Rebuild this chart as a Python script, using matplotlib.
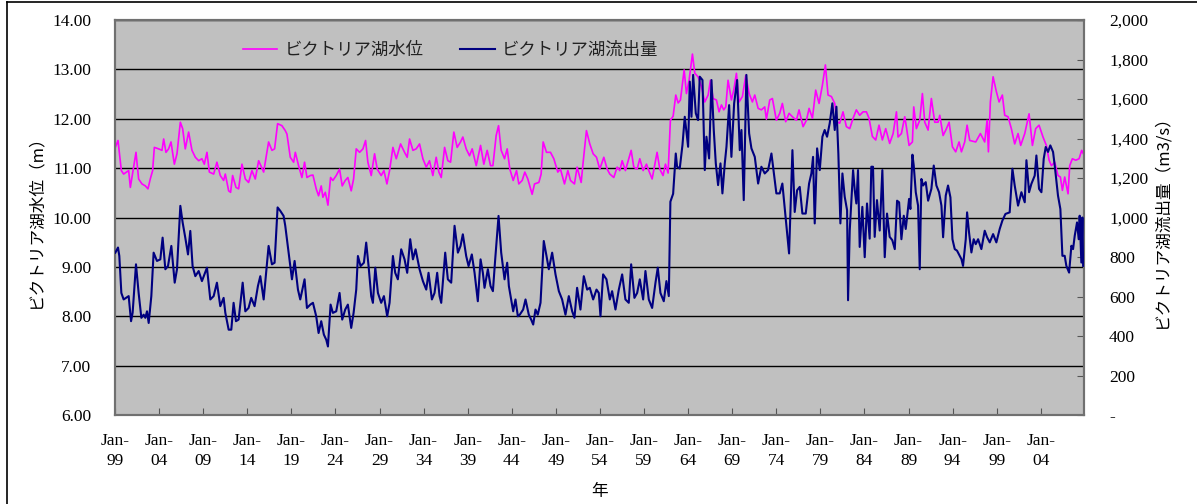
import matplotlib
matplotlib.use("Agg")
import matplotlib.pyplot as plt
from matplotlib.lines import Line2D
from matplotlib.ticker import FuncFormatter

# Lake Victoria water level (m), decimal year
level_year = [
    1899.04, 1899.34, 1899.72, 1899.98, 1900.55, 1900.74, 1901.38, 1901.68, 1902.06, 1902.44,
    1902.74, 1903.00, 1903.27, 1903.46, 1903.95, 1904.33, 1904.52, 1904.78, 1905.08, 1905.35,
    1905.73, 1906.03, 1906.41, 1906.67, 1906.97, 1907.35, 1907.73, 1908.11, 1908.49, 1908.86,
    1909.13, 1909.43, 1909.70, 1910.19, 1910.56, 1910.94, 1911.32, 1911.51, 1911.89, 1912.11,
    1912.34, 1912.72, 1913.02, 1913.40, 1913.78, 1914.15, 1914.53, 1914.91, 1915.29, 1915.86,
    1916.42, 1916.80, 1917.10, 1917.44, 1917.93, 1918.31, 1918.50, 1918.88, 1919.26, 1919.45,
    1919.82, 1920.20, 1920.50, 1920.77, 1921.15, 1921.45, 1921.82, 1922.09, 1922.39, 1922.58,
    1922.85, 1923.15, 1923.45, 1923.71, 1924.09, 1924.47, 1924.77, 1925.11, 1925.41, 1925.79,
    1926.06, 1926.36, 1926.74, 1927.12, 1927.42, 1927.68, 1928.06, 1928.44, 1928.74, 1929.19,
    1929.50, 1929.84, 1930.14, 1930.52, 1930.90, 1931.39, 1931.84, 1932.14, 1932.41, 1932.79,
    1933.16, 1933.54, 1933.92, 1934.30, 1934.67, 1935.05, 1935.43, 1935.73, 1936.00, 1936.38,
    1936.75, 1937.06, 1937.43, 1937.81, 1938.19, 1938.45, 1938.83, 1939.21, 1939.51, 1939.97,
    1940.46, 1940.83, 1941.21, 1941.59, 1941.86, 1942.23, 1942.50, 1942.80, 1943.18, 1943.48,
    1943.78, 1944.16, 1944.54, 1944.80, 1945.18, 1945.48, 1945.82, 1946.31, 1946.58, 1947.07,
    1947.33, 1947.56, 1947.94, 1948.39, 1948.77, 1949.22, 1949.52, 1949.98, 1950.36, 1950.66,
    1951.11, 1951.41, 1951.87, 1952.17, 1952.47, 1952.85, 1953.23, 1953.61, 1953.98, 1954.44,
    1954.82, 1955.12, 1955.57, 1955.95, 1956.25, 1956.52, 1956.89, 1957.54, 1957.84, 1958.22,
    1958.52, 1958.90, 1959.28, 1959.54, 1959.92, 1960.48, 1960.79, 1961.16, 1961.43, 1961.73,
    1961.99, 1962.30, 1962.60, 1962.87, 1963.13, 1963.55, 1963.81, 1964.11, 1964.49, 1964.76,
    1965.13, 1965.51, 1965.89, 1966.27, 1966.53, 1966.83, 1967.21, 1967.51, 1967.78, 1968.04,
    1968.27, 1968.53, 1968.91, 1969.18, 1969.48, 1969.78, 1970.16, 1970.54, 1970.92, 1971.29,
    1971.56, 1971.94, 1972.31, 1972.69, 1972.88, 1973.26, 1973.56, 1974.01, 1974.39, 1974.69,
    1975.07, 1975.45, 1975.83, 1976.28, 1976.58, 1977.04, 1977.42, 1977.72, 1978.10, 1978.47,
    1978.85, 1979.23, 1979.57, 1979.87, 1980.25, 1980.63, 1980.89, 1981.19, 1981.57, 1981.95,
    1982.33, 1982.71, 1983.08, 1983.46, 1983.84, 1984.22, 1984.52, 1984.90, 1985.28, 1985.65,
    1986.03, 1986.41, 1986.86, 1987.25, 1987.63, 1987.81, 1988.19, 1988.57, 1988.76, 1989.06,
    1989.44, 1989.59, 1989.89, 1990.27, 1990.57, 1990.84, 1991.22, 1991.59, 1991.97, 1992.35,
    1992.54, 1992.92, 1993.30, 1993.60, 1993.98, 1994.35, 1994.73, 1995.00, 1995.37, 1995.64,
    1995.94, 1996.62, 1997.15, 1997.64, 1997.91, 1998.06, 1998.28, 1998.59, 1998.96, 1999.27,
    1999.64, 1999.91, 2000.29, 2000.66, 2001.04, 2001.42, 2001.72, 2002.18, 2002.67, 2003.05,
    2003.42, 2003.80, 2004.25, 2004.63, 2004.94, 2005.20, 2005.58, 2005.95, 2006.22, 2006.45,
    2006.71, 2007.09, 2007.28, 2007.58, 2007.96, 2008.34, 2008.64, 2008.80,
]
level_m = [
    11.42, 11.56, 10.95, 10.88, 10.95, 10.61, 11.32, 10.78, 10.68, 10.64,
    10.58, 10.78, 10.95, 11.42, 11.39, 11.36, 11.59, 11.32, 11.39, 11.53,
    11.08, 11.29, 11.93, 11.80, 11.39, 11.73, 11.36, 11.22, 11.15, 11.19,
    11.08, 11.32, 10.92, 10.88, 11.12, 10.85, 10.75, 10.88, 10.54, 10.51,
    10.85, 10.61, 10.58, 11.08, 10.78, 10.71, 10.95, 10.78, 11.15, 10.92,
    11.53, 11.36, 11.39, 11.90, 11.86, 11.76, 11.69, 11.22, 11.12, 11.32,
    11.05, 10.81, 11.12, 10.81, 10.85, 10.86, 10.58, 10.44, 10.64, 10.41,
    10.51, 10.25, 10.81, 10.75, 10.85, 10.98, 10.64, 10.75, 10.81, 10.54,
    10.78, 11.39, 11.32, 11.39, 11.56, 11.12, 10.85, 11.29, 10.98, 10.85,
    10.95, 10.68, 10.95, 11.42, 11.19, 11.49, 11.32, 11.22, 11.59, 11.36,
    11.39, 11.49, 11.19, 11.02, 11.15, 10.85, 11.22, 10.92, 10.81, 11.42,
    11.15, 11.12, 11.73, 11.42, 11.53, 11.63, 11.39, 11.25, 11.39, 11.05,
    11.46, 11.08, 11.36, 11.05, 11.05, 11.66, 11.86, 11.36, 11.19, 11.39,
    10.98, 10.75, 10.95, 10.68, 10.75, 10.92, 10.78, 10.47, 10.68, 10.71,
    10.88, 11.53, 11.32, 11.32, 11.19, 10.92, 10.98, 10.68, 10.95, 10.75,
    10.68, 11.02, 10.71, 11.25, 11.76, 11.49, 11.29, 11.22, 10.98, 11.22,
    10.98, 10.88, 10.81, 11.02, 10.95, 11.15, 10.95, 11.36, 11.02, 10.98,
    11.19, 10.95, 11.08, 10.95, 10.78, 11.32, 10.98, 10.85, 11.08, 10.90,
    11.97, 12.05, 12.48, 12.32, 12.38, 12.99, 12.51, 12.78, 13.31, 12.92,
    12.85, 12.65, 12.34, 12.48, 12.78, 12.41, 12.38, 12.14, 12.28, 12.18,
    12.24, 12.78, 12.38, 12.58, 12.92, 12.34, 12.45, 12.88, 12.51, 12.34,
    12.48, 12.21, 12.18, 12.24, 11.99, 12.38, 12.41, 11.97, 12.11, 12.31,
    11.94, 12.11, 12.04, 11.97, 12.18, 11.84, 11.97, 12.21, 12.01, 12.58,
    12.31, 12.68, 13.09, 12.48, 12.45, 12.31, 11.94, 11.91, 12.14, 11.84,
    11.80, 12.01, 12.18, 12.07, 12.14, 12.14, 12.01, 11.64, 11.57, 11.87,
    11.57, 11.80, 11.50, 11.70, 12.14, 11.63, 11.70, 12.04, 11.83, 11.46,
    11.53, 12.24, 11.80, 11.97, 12.51, 11.93, 11.77, 12.41, 11.93, 11.93,
    12.07, 11.66, 11.80, 11.93, 11.43, 11.33, 11.53, 11.33, 11.53, 11.87,
    11.56, 11.53, 11.70, 11.53, 11.97, 11.33, 12.34, 12.85, 12.55, 12.34,
    12.48, 12.07, 12.04, 11.80, 11.49, 11.70, 11.46, 11.70, 12.10, 11.46,
    11.80, 11.87, 11.63, 11.46, 11.16, 11.05, 11.12, 10.85, 10.82, 10.55,
    10.82, 10.48, 11.05, 11.19, 11.16, 11.19, 11.36, 11.30,
]

# Lake Victoria outflow (m3/s), decimal year
flow_year = [
    1899.04, 1899.34, 1899.49, 1899.72, 1899.98, 1900.55, 1900.82, 1901.00, 1901.38, 1901.68,
    1901.99, 1902.25, 1902.44, 1902.63, 1902.82, 1903.12, 1903.38, 1903.76, 1904.14, 1904.40,
    1904.71, 1905.01, 1905.39, 1905.77, 1906.03, 1906.41, 1906.67, 1906.97, 1907.28, 1907.54,
    1907.80, 1908.11, 1908.49, 1908.86, 1909.43, 1909.81, 1910.19, 1910.56, 1910.94, 1911.32,
    1911.51, 1911.89, 1912.19, 1912.45, 1912.72, 1913.02, 1913.48, 1913.78, 1914.15, 1914.45,
    1914.83, 1915.21, 1915.48, 1915.86, 1916.42, 1916.80, 1917.10, 1917.44, 1917.74, 1918.12,
    1918.31, 1918.69, 1919.07, 1919.37, 1919.75, 1920.01, 1920.50, 1920.77, 1921.15, 1921.45,
    1921.82, 1922.09, 1922.39, 1922.69, 1922.96, 1923.15, 1923.45, 1923.71, 1924.09, 1924.47,
    1924.77, 1925.11, 1925.41, 1925.79, 1926.06, 1926.36, 1926.55, 1926.85, 1927.23, 1927.49,
    1927.76, 1928.06, 1928.25, 1928.52, 1928.82, 1929.19, 1929.50, 1929.87, 1930.14, 1930.52,
    1930.78, 1931.08, 1931.46, 1931.84, 1932.14, 1932.48, 1932.79, 1933.09, 1933.54, 1933.92,
    1934.30, 1934.56, 1934.94, 1935.24, 1935.54, 1935.81, 1936.00, 1936.45, 1936.75, 1937.13,
    1937.51, 1937.89, 1938.19, 1938.45, 1938.83, 1939.10, 1939.47, 1939.78, 1940.15, 1940.46,
    1940.72, 1940.91, 1941.29, 1941.59, 1941.86, 1942.12, 1942.50, 1942.80, 1943.18, 1943.48,
    1943.67, 1943.93, 1944.16, 1944.42, 1944.69, 1944.91, 1945.29, 1945.56, 1945.93, 1946.20,
    1946.43, 1946.69, 1946.95, 1947.26, 1947.63, 1947.94, 1948.20, 1948.58, 1948.96, 1949.34,
    1949.71, 1950.09, 1950.47, 1950.85, 1951.11, 1951.41, 1951.79, 1952.17, 1952.55, 1952.85,
    1953.23, 1953.61, 1953.87, 1954.06, 1954.36, 1954.74, 1955.12, 1955.38, 1955.76, 1956.14,
    1956.52, 1956.89, 1957.27, 1957.54, 1957.91, 1958.22, 1958.52, 1958.90, 1959.16, 1959.54,
    1959.92, 1960.30, 1960.56, 1960.86, 1961.24, 1961.54, 1961.81, 1961.99, 1962.30, 1962.60,
    1962.75, 1963.05, 1963.36, 1963.62, 1964.00, 1964.19, 1964.38, 1964.57, 1964.87, 1965.13,
    1965.32, 1965.63, 1965.89, 1966.08, 1966.38, 1966.65, 1966.91, 1967.14, 1967.40, 1967.67,
    1967.89, 1968.16, 1968.35, 1968.65, 1968.91, 1969.22, 1969.56, 1969.86, 1970.05, 1970.31,
    1970.61, 1970.92, 1971.18, 1971.56, 1971.94, 1972.31, 1972.69, 1973.07, 1973.45, 1973.83,
    1974.01, 1974.39, 1974.69, 1975.07, 1975.45, 1975.83, 1976.09, 1976.36, 1976.66, 1976.96,
    1977.34, 1977.72, 1977.98, 1978.17, 1978.36, 1978.63, 1978.93, 1979.23, 1979.49, 1979.76,
    1980.06, 1980.36, 1980.63, 1980.82, 1981.04, 1981.27, 1981.50, 1981.76, 1982.03, 1982.14,
    1982.33, 1982.71, 1982.90, 1983.08, 1983.27, 1983.46, 1983.76, 1984.03, 1984.29, 1984.59,
    1984.78, 1984.97, 1985.16, 1985.42, 1985.73, 1986.03, 1986.30, 1986.56, 1986.86, 1987.16,
    1987.44, 1987.70, 1987.93, 1988.19, 1988.46, 1988.68, 1988.83, 1989.06, 1989.21, 1989.44,
    1989.59, 1989.82, 1990.08, 1990.27, 1990.46, 1990.65, 1990.95, 1991.22, 1991.59, 1991.86,
    1992.16, 1992.46, 1992.73, 1992.92, 1993.22, 1993.48, 1993.75, 1993.98, 1994.24, 1994.50,
    1994.81, 1995.00, 1995.18, 1995.49, 1995.64, 1995.86, 1996.13, 1996.39, 1996.62, 1996.89,
    1997.26, 1997.64, 1997.91, 1998.21, 1998.59, 1998.96, 1999.34, 1999.64, 1999.99, 2000.47,
    2000.78, 2001.04, 2001.42, 2001.80, 2002.18, 2002.37, 2002.67, 2002.93, 2003.31, 2003.50,
    2003.80, 2004.07, 2004.33, 2004.56, 2004.82, 2005.08, 2005.39, 2005.58, 2005.95, 2006.22,
    2006.45, 2006.71, 2006.90, 2007.21, 2007.47, 2007.66, 2007.85, 2008.11, 2008.30, 2008.41,
    2008.60, 2008.72, 2008.80,
]
flow_m3s = [
    822, 848, 805, 618, 585, 602, 475, 518, 763, 618,
    492, 508, 492, 525, 466, 602, 822, 780, 788, 898,
    738, 754, 856, 670, 738, 1059, 975, 898, 813, 932,
    754, 703, 729, 678, 746, 585, 602, 670, 551, 593,
    518, 432, 432, 568, 475, 483, 670, 525, 542, 593,
    551, 653, 703, 585, 856, 763, 771, 1051, 1034, 1008,
    958, 822, 687, 780, 635, 585, 687, 542, 559, 568,
    500, 415, 475, 407, 381, 347, 559, 517, 525, 618,
    483, 534, 559, 441, 517, 635, 805, 754, 771, 873,
    754, 602, 568, 746, 618, 568, 602, 500, 568, 805,
    720, 687, 839, 788, 720, 890, 788, 839, 738, 678,
    635, 720, 585, 618, 720, 602, 568, 822, 687, 670,
    958, 822, 856, 915, 805, 754, 813, 720, 576, 788,
    720, 644, 738, 653, 627, 788, 1008, 822, 687, 771,
    653, 585, 525, 585, 500, 508, 534, 585, 508, 483,
    458, 534, 508, 568, 881, 805, 738, 822, 712, 627,
    585, 508, 602, 525, 492, 644, 534, 703, 635, 644,
    585, 635, 618, 500, 712, 687, 585, 627, 534, 635,
    712, 585, 568, 763, 593, 618, 687, 585, 729, 585,
    542, 670, 746, 618, 576, 678, 602, 1080, 1120, 1324,
    1257, 1248, 1367, 1510, 1358, 1688, 1510, 1722, 1528, 1493,
    1713, 1696, 1240, 1409, 1299, 1696, 1443, 1274, 1164, 1274,
    1122, 1274, 1358, 1569, 1307, 1578, 1696, 1341, 1443, 1088,
    1722, 1426, 1350, 1307, 1172, 1257, 1223, 1240, 1324, 1189,
    1122, 1122, 1172, 995, 818, 1341, 1028, 1138, 1155, 1020,
    1020, 1172, 1223, 1307, 970, 1350, 1240, 1409, 1443, 1409,
    1477, 1578, 1443, 1561, 1324, 970, 1223, 1105, 1037, 581,
    934, 1240, 1138, 1071, 1240, 851, 1054, 799, 1071, 893,
    1257, 1257, 902, 1088, 934, 1240, 799, 1020, 902, 885,
    840, 1085, 1077, 890, 1009, 942, 1000, 1094, 1043, 1318,
    1263, 1128, 1060, 738, 1195, 1162, 1179, 1085, 1145, 1263,
    1162, 1128, 1060, 900, 1111, 1162, 1102, 890, 840, 832,
    806, 789, 755, 890, 1026, 925, 823, 890, 865, 890,
    840, 933, 900, 874, 916, 874, 942, 984, 1018, 1026,
    1247, 1162, 1060, 1128, 1077, 1290, 1128, 1170, 1212, 1314,
    1145, 1128, 1297, 1357, 1332, 1365, 1332, 1263, 1111, 1043,
    806, 806, 755, 721, 857, 840, 908, 975, 890, 1009,
    772, 1000, 755,
]

tick_years = list(range(1899, 2005, 5))
tick_labels = [f"Jan-\n{y % 100:02d}" for y in tick_years]

level_label = "ビクトリア湖水位"
flow_label = "ビクトリア湖流出量"

serif = ["Liberation Serif", "DejaVu Serif"]
jp = ["Noto Sans CJK JP", "DejaVu Sans"]

W, H = 1197, 504
fig = plt.figure(figsize=(W / 100, H / 100), dpi=100)
fig.patch.set_facecolor("white")

ax = fig.add_axes([115 / W, 89 / H, 969 / W, 395 / H])
ax.set_facecolor("#C0C0C0")
ax2 = ax.twinx()

ln1, = ax.plot(level_year, level_m, color="#FF00FF", lw=1.2, zorder=3)
ln2, = ax2.plot(flow_year, flow_m3s, color="#000080", lw=1.5, zorder=3)

ax.set_xlim(1899, 2008.9)
ax.set_ylim(6, 14)
ax2.set_ylim(0, 2000)

ax.set_yticks(range(6, 15))
ax.yaxis.set_major_formatter(FuncFormatter(lambda v, p: f"{v:.2f}"))
ax2.set_yticks(range(0, 2001, 200))
ax2.yaxis.set_major_formatter(FuncFormatter(lambda v, p: "-" if v == 0 else f"{v:,.0f}"))

ax.set_xticks(tick_years)
ax.set_xticklabels(tick_labels, linespacing=1.3)

ax.yaxis.grid(True, color="black", lw=1.0)
ax.set_axisbelow(True)

for s in list(ax.spines.values()) + list(ax2.spines.values()):
    s.set_color("#707070")
    s.set_linewidth(1.5)

ax.tick_params(axis="y", length=0, pad=17, labelsize=12.5)
ax.tick_params(axis="x", direction="in", length=5, color="#555555", pad=13, labelsize=12.5)
ax2.tick_params(axis="y", direction="in", length=5, color="#555555", pad=18, labelsize=12.5)
for lab in ax.get_xticklabels() + ax.get_yticklabels() + ax2.get_yticklabels():
    lab.set_fontfamily(serif)

ax.set_ylabel(level_label + "（m）", family=jp, fontsize=12, labelpad=6)
ax2.set_ylabel(flow_label + "（m3/s）", family=jp, fontsize=12, labelpad=4, rotation=90)
ax.set_xlabel("年", family=jp, fontsize=12, labelpad=10)

leg = ax.legend([ln1, ln2], [level_label, flow_label], loc="center",
                bbox_to_anchor=(0.346, 0.924), ncol=2, frameon=False,
                prop={"family": jp, "size": 12.5}, handlelength=2.0,
                columnspacing=2.1, handletextpad=0.4)
for t in leg.get_texts():
    t.set_color("#222222")

# chart frame (top and left edges)
fig.add_artist(Line2D([7 / W, 7 / W], [0, 1 - 2 / H], transform=fig.transFigure,
                      color="black", lw=1.2))
fig.add_artist(Line2D([7 / W, 1], [1 - 2 / H, 1 - 2 / H], transform=fig.transFigure,
                      color="black", lw=1.2))

fig.savefig("out.png", dpi=100, facecolor="white")
